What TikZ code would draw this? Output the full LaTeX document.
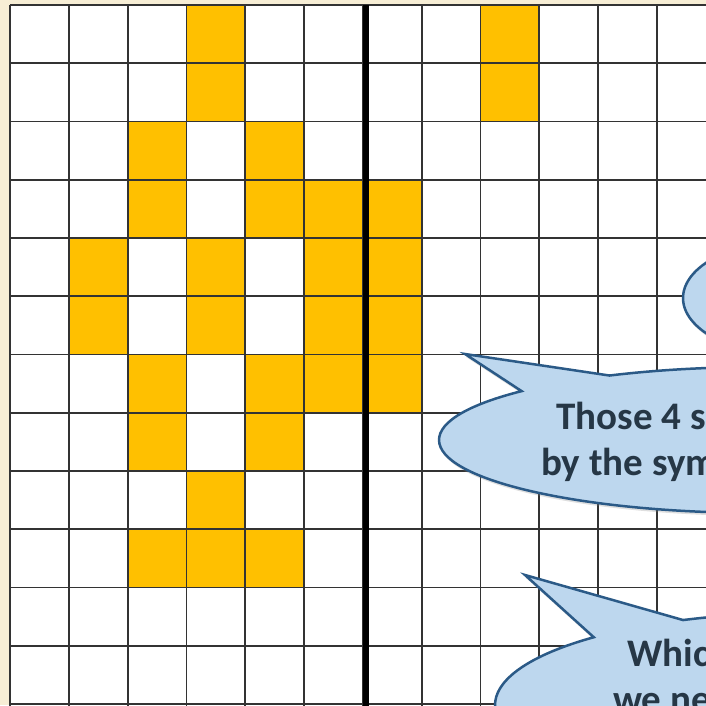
\documentclass[tikz,border=0pt]{standalone}
\usepackage{fontspec}
\setsansfont{Carlito}
\usetikzlibrary{shapes.callouts,shadows}
\definecolor{bg}{HTML}{F7EED5}
\definecolor{gold}{HTML}{FFC000}
\definecolor{bub}{HTML}{BDD7EE}
\definecolor{bubl}{HTML}{2B5A87}
\definecolor{ink}{HTML}{263746}
\tikzset{
  gl/.style={draw=black!80,line width=1.8pt},
  bubble/.style={ellipse callout,draw=bubl,line width=2.5pt,fill=bub,inner sep=0pt,outer sep=0pt,
    callout pointer arc=20,drop shadow={shadow xshift=1pt,shadow yshift=-3pt,opacity=.25}},
  txt/.style={anchor=base west,inner sep=0pt,text=ink,font=\sffamily\bfseries\fontsize{39}{47}\selectfont},
}
\begin{document}
\begin{tikzpicture}[x=1pt,y=-1pt]
  \useasboundingbox (0,0) rectangle (706,705);
  \clip (0,0) rectangle (706,705);
  \fill[bg] (0,0) rectangle (706,705);
  \fill[white] (10,5) rectangle (720,720);
  \foreach \c/\r in {3/0,8/0,3/1,8/1,2/2,4/2,2/3,4/3,5/3,6/3,1/4,3/4,5/4,6/4,
      1/5,3/5,5/5,6/5,2/6,4/6,5/6,6/6,2/7,4/7,3/8,2/9,3/9,4/9}
    \fill[gold] (10+\c*58.8,5+\r*58.25) rectangle ++(58.8,58.25);
  \foreach \c in {0,...,12}
    \draw[gl] (10+\c*58.8,5) -- (10+\c*58.8,720);
  \foreach \r in {0,...,12}
    \draw[gl] (10,5+\r*58.25) -- (720,5+\r*58.25);
  \draw[line width=6pt] (365.5,5) -- (365.5,710);
  \node[bubble,minimum width=242pt,minimum height=120pt,callout absolute pointer={(880,150)}] (top) at (804,298) {};
  \node[bubble,minimum width=642pt,minimum height=146pt,callout absolute pointer={(465,354)}] (mid) at (760,440) {};
  \node[bubble,minimum width=610pt,minimum height=184pt,callout absolute pointer={(525,575)}] (low) at (800,705) {};
  \node[txt] (mid1) at (556,429) {Those 4 s};
  \node[txt] (mid2) at (541,475) {by the sym};
  \node[txt] (low1) at (627,666) {Whic};
  \node[txt] (low2) at (613,712) {we ne};
\end{tikzpicture}
\end{document}
